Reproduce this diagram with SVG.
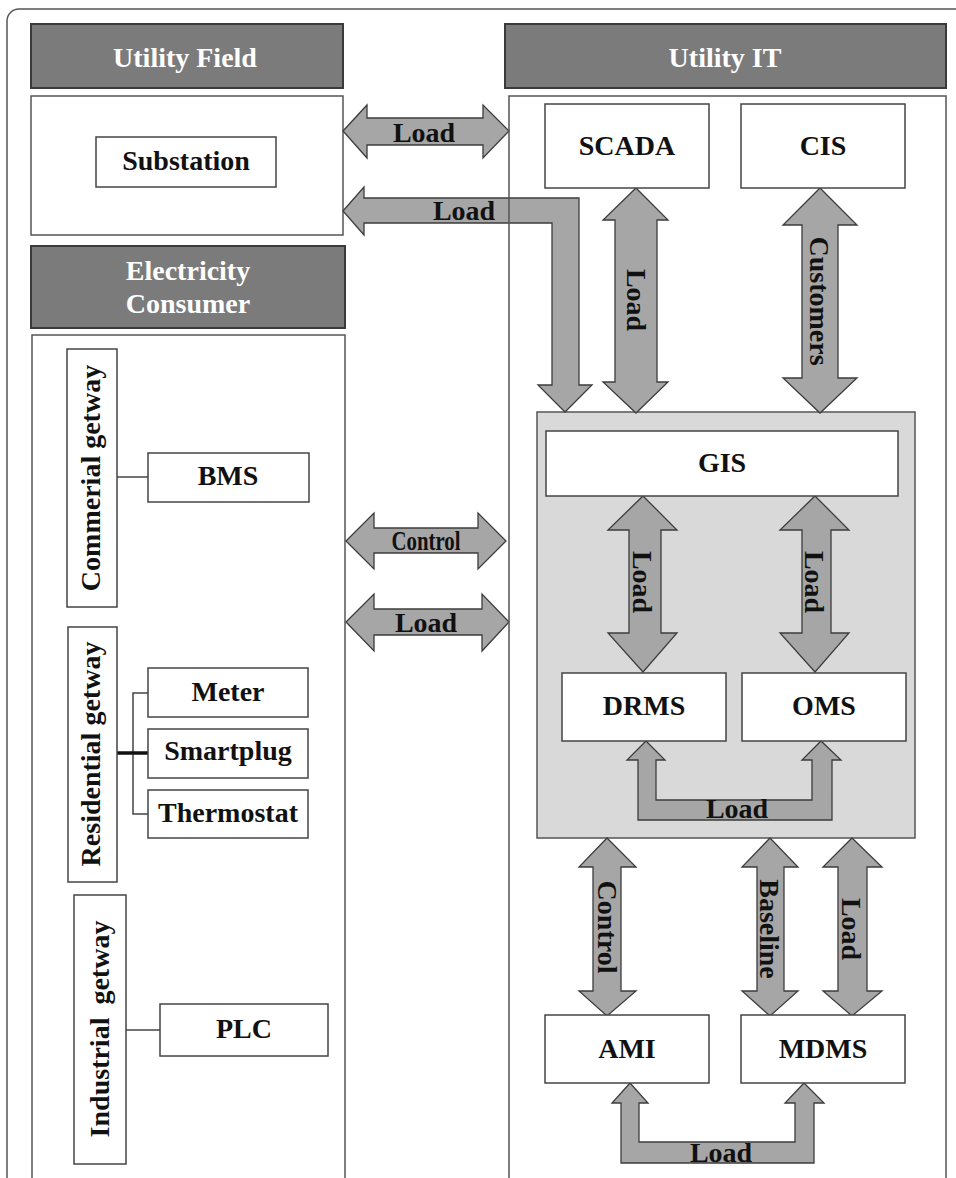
<svg xmlns="http://www.w3.org/2000/svg" width="956" height="1178" viewBox="0 0 956 1178">
<style>
text{font-family:"Liberation Serif","Times New Roman",serif;font-weight:bold;font-size:28px;fill:#111;text-anchor:middle}
.hdr{fill:#7b7b7b;stroke:#3a3a3a;stroke-width:2}
.hdr-t{fill:#fff}
.box{fill:#fff;stroke:#444;stroke-width:1.5}
.cont{fill:#fff;stroke:#555;stroke-width:1.5}
.gray{fill:#d9d9d9;stroke:#555;stroke-width:1.5}
.arr{fill:#a6a6a6;stroke:#3c3c3c;stroke-width:1.3;stroke-linejoin:miter}
.ln{stroke:#444;stroke-width:1.5;fill:none}
</style>
<rect width="956" height="1178" fill="#fff"/>
<path d="M7,1190 V21 A12,12 0 0 1 19,9 H970" fill="none" stroke="#555" stroke-width="1.5"/>

<g id="utility-field">
<rect class="hdr" x="31" y="24" width="312" height="64"/>
<text class="hdr-t" x="185" y="67">Utility Field</text>
<rect class="cont" x="31" y="96" width="312" height="139"/>
</g>
<g id="substation">
<rect class="box" x="96" y="137" width="180" height="50"/>
<text x="186" y="170">Substation</text>
</g>
<g id="electricity-consumer">
<rect class="hdr" x="31" y="246" width="314" height="82"/>
<text class="hdr-t" x="188" y="280">Electricity</text>
<text class="hdr-t" x="188" y="313">Consumer</text>
<rect class="cont" x="32" y="335" width="313" height="870"/>
</g>
<g id="utility-it-header">
<rect class="hdr" x="505" y="24" width="441" height="64"/>
<text class="hdr-t" x="725" y="67">Utility IT</text>
</g>
<g id="gis-group">
<rect class="gray" x="537" y="412" width="378" height="426"/>
</g>

<g id="left-links">
<line class="ln" x1="117" y1="477" x2="148" y2="477"/>
<polyline class="ln" points="148,693 133,693 133,814 148,814"/>
<line x1="117" y1="753" x2="148" y2="753" stroke="#111" stroke-width="3.5"/>
<line class="ln" x1="126" y1="1030" x2="160" y2="1030"/>
</g>

<g id="connectors">
<polygon class="arr" points="343,131 367,105 367,118 483,118 483,105 509,131 483,158 483,145 367,145 367,158"/>
<polygon class="arr" points="343,211 364,187 364,198 579,198 579,385 592,385 565,412 538,385 552,385 552,223 364,223 364,235"/>
<polygon class="arr" points="636,188 668,220 657,220 657,382 668,382 636,413 603,382 615,382 615,220 603,220"/>
<polygon class="arr" points="820,188 857,225 838,225 838,378 857,378 820,413 783,378 802,378 802,225 783,225"/>
<polygon class="arr" points="643,496 677,530 661,530 661,633 677,633 643,672 608,633 629,633 629,530 608,530"/>
<polygon class="arr" points="815,496 849,530 831,530 831,633 849,633 815,672 780,633 802,633 802,530 780,530"/>
<polygon class="arr" points="346,541 374,513 374,528 478,528 478,513 506,541 478,569 478,553 374,553 374,569"/>
<polygon class="arr" points="346,622 374,594 374,609 482,609 482,594 509,622 482,651 482,635 374,635 374,651"/>
<polygon class="arr" points="646,741 665,760 656,760 656,800 812,800 812,760 802,760 821,741 841,760 832,760 832,820 638,820 638,760 627,760"/>
<polygon class="arr" points="607,838 636,867 621,867 621,991 636,991 607,1016 579,991 593,991 593,867 579,867"/>
<polygon class="arr" points="770,838 798,867 784,867 784,991 798,991 770,1016 742,991 757,991 757,867 742,867"/>
<polygon class="arr" points="852,838 882,867 867,867 867,991 882,991 852,1016 823,991 838,991 838,867 823,867"/>
<polygon class="arr" points="630,1083 648,1103 639,1103 639,1142 795,1142 795,1103 785,1103 804,1083 824,1103 814,1103 814,1163 621,1163 621,1103 612,1103"/>
<text x="424" y="142">Load</text>
<text x="464" y="220">Load</text>
<text x="426" y="550" textLength="69" lengthAdjust="spacingAndGlyphs">Control</text>
<text x="426" y="632">Load</text>
<text x="737" y="818">Load</text>
<text x="721" y="1162">Load</text>
<text transform="translate(636,300) rotate(90)" y="9">Load</text>
<text transform="translate(819,301) rotate(90)" y="9">Customers</text>
<text transform="translate(642,582) rotate(90)" y="9">Load</text>
<text transform="translate(814,582) rotate(90)" y="9">Load</text>
<text transform="translate(607,927) rotate(90)" y="9">Control</text>
<text transform="translate(769,929) rotate(90)" y="9">Baseline</text>
<text transform="translate(851,929) rotate(90)" y="9">Load</text>
</g>

<g id="utility-it">
<rect x="509" y="96" width="437" height="1110" fill="none" stroke="#555" stroke-width="1.5"/>
</g>
<g id="scada"><rect class="box" x="545" y="104" width="164" height="84"/><text x="627" y="155">SCADA</text></g>
<g id="cis"><rect class="box" x="741" y="104" width="164" height="84"/><text x="823" y="155">CIS</text></g>
<g id="gis"><rect class="box" x="546" y="431" width="352" height="65"/><text x="722" y="472">GIS</text></g>
<g id="drms"><rect class="box" x="562" y="673" width="164" height="68"/><text x="644" y="715">DRMS</text></g>
<g id="oms"><rect class="box" x="742" y="673" width="164" height="68"/><text x="824" y="715">OMS</text></g>
<g id="ami"><rect class="box" x="545" y="1015" width="164" height="68"/><text x="627" y="1058">AMI</text></g>
<g id="mdms"><rect class="box" x="741" y="1015" width="164" height="68"/><text x="823" y="1058">MDMS</text></g>

<g id="commercial-gateway"><rect class="box" x="67" y="349" width="50" height="258"/><text transform="translate(92,478) rotate(-90)" y="8">Commerial getway</text></g>
<g id="bms"><rect class="box" x="148" y="453" width="161" height="49"/><text x="228" y="485">BMS</text></g>
<g id="residential-gateway"><rect class="box" x="68" y="627" width="49" height="255"/><text transform="translate(92,754) rotate(-90)" y="8">Residential getway</text></g>
<g id="meter"><rect class="box" x="148" y="668" width="160" height="49"/><text x="228" y="701">Meter</text></g>
<g id="smartplug"><rect class="box" x="148" y="729" width="160" height="49"/><text x="228" y="760">Smartplug</text></g>
<g id="thermostat"><rect class="box" x="148" y="790" width="160" height="48"/><text x="228" y="822">Thermostat</text></g>
<g id="industrial-gateway"><rect class="box" x="74" y="895" width="52" height="269"/><text transform="translate(100,1029) rotate(-90)" y="9" word-spacing="6">Industrial getway</text></g>
<g id="plc"><rect class="box" x="160" y="1004" width="168" height="52"/><text x="244" y="1038">PLC</text></g>
</svg>
